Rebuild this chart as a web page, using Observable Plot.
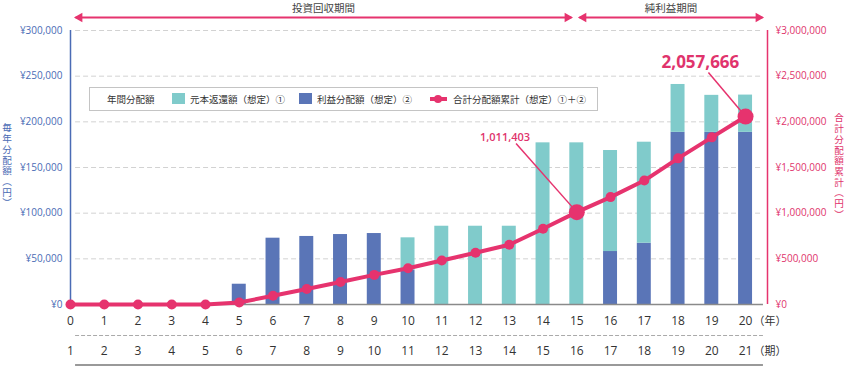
<!DOCTYPE html>
<html><head><meta charset="utf-8">
<script src="https://cdn.jsdelivr.net/npm/d3@7"></script>
<script src="https://cdn.jsdelivr.net/npm/@observablehq/plot@0.6"></script>
<style>
body{margin:0;background:#fff;}
#wrap{position:relative;width:845px;height:366px;font-family:"Open Sans","Noto Sans CJK JP",sans-serif;overflow:hidden;}
#wrap svg{position:absolute;left:0;top:0;}
.lg{position:absolute;font-family:"Noto Sans CJK JP",sans-serif;font-size:9.5px;color:#333;line-height:12px;white-space:nowrap;}
.vt{position:absolute;width:13px;height:130px;writing-mode:vertical-rl;text-orientation:mixed;white-space:nowrap;font-family:"Noto Sans CJK JP",sans-serif;font-size:9.6px;letter-spacing:1.1px;line-height:13px;}
</style></head><body><div id="wrap"></div>
<script>
// ---- data ----
const years = [0,1,2,3,4,5,6,7,8,9,10,11,12,13,14,15,16,17,18,19,20];
const periods = [1,2,3,4,5,6,7,8,9,10,11,12,13,14,15,16,17,18,19,20,21];
const principal = [0,0,0,0,0,0,0,0,0,0,35800,85700,85700,85700,177000,177000,110600,110600,52400,40500,40800];
const profit = [0,0,0,0,0,22200,72600,74500,76600,77700,37200,0,0,0,0,0,58000,67100,188500,188500,188500];
const cumulative = [0,0,0,0,0,22000,95000,169000,246000,324000,397000,482000,566000,654000,830000,1011403,1176000,1357000,1600000,1830000,2057666];
const leftTicks = [0,50000,100000,150000,200000,250000,300000];
const rightTicks = [0,500000,1000000,1500000,2000000,2500000,3000000];
const legendTitle = "年間分配額";
const seriesNames = ["元本返還額（想定）①","利益分配額（想定）②","合計分配額累計（想定）①＋②"];
const leftTitle = "毎年分配額（円）";
const rightTitle = "合計分配額累計（円）";
const spans = [{label:"投資回収期間", from:0.15, to:14.84},{label:"純利益期間", from:15.08, to:20.5}];
const yearUnit = "（年）", periodUnit = "（期）";
const highlights = [15, 20];

// ---- styles ----
const TEAL = "#80cbcb", BLUE = "#5a75b7", PINK = "#e6336e", BLUETXT = "#4a6bb5", PINKTXT = "#e0336c";
const xMax = 20.65, bw = 0.207, gx1 = 0.15, gx2 = 20.53;
const fmtYen = d => "¥" + d3.format(",")(d);
const CJK = '"Noto Sans CJK JP",sans-serif';

const rows = years.map((y,i) => ({year:y, period:periods[i], principal:principal[i], profit:profit[i], cum:cumulative[i]}));
const hl = rows.filter(d => highlights.includes(d.year));
const ann = [
  {year:15, cum:cumulative[15], text:d3.format(",")(cumulative[15]), lx:13.2, lcum:1763000},
  {year:20, cum:cumulative[20], text:d3.format(",")(cumulative[20]), lx:18.9, lcum:2540000}
];

const chart = Plot.plot({
  width: 845, height: 366,
  marginLeft: 70, marginRight: 78, marginTop: 30, marginBottom: 62,
  x: {domain: [0, xMax], axis: null},
  y: {domain: [0, 300000], axis: null},
  style: {fontFamily: '"Open Sans","Noto Sans CJK JP",sans-serif', background: "transparent", overflow: "visible"},
  marks: [
    Plot.ruleY(leftTicks.filter(d => d > 0), {x1: gx1, x2: gx2, y: d => d, stroke: "#d2d2d2", strokeDasharray: "5,3"}),
    Plot.rect(rows, {x1: d => d.year - bw, x2: d => d.year + bw, y1: 0, y2: "profit", fill: BLUE}),
    Plot.rect(rows, {x1: d => d.year - bw, x2: d => d.year + bw, y1: "profit", y2: d => d.profit + d.principal, fill: TEAL}),
    Plot.ruleY([0], {x1: 0, x2: gx2, stroke: "#8a8a8a", strokeWidth: 1.5}),
    Plot.ruleX([0], {y1: 0, y2: 300000, stroke: BLUETXT, strokeWidth: 1.5}),
    Plot.ruleX([xMax], {y1: 0, y2: 300000, stroke: PINK, strokeWidth: 1.5}),
    Plot.text(leftTicks, {x: 0, y: d => d, text: fmtYen, textAnchor: "end", dx: -8, fill: BLUETXT, fontSize: 10}),
    Plot.text(rightTicks, {x: xMax, y: d => d / 10, text: fmtYen, textAnchor: "start", dx: 8, fill: PINKTXT, fontSize: 10}),
    // leaders
    Plot.link(ann, {x1: "year", y1: d => d.cum / 10, x2: "lx", y2: d => d.lcum / 10, stroke: PINK, strokeWidth: 1.5}),
    Plot.line(rows, {x: "year", y: d => d.cum / 10, stroke: PINK, strokeWidth: 4}),
    Plot.dot(rows, {x: "year", y: d => d.cum / 10, r: 5, fill: PINK}),
    Plot.dot(hl, {x: "year", y: d => d.cum / 10, r: 8, fill: PINK}),
    Plot.text(ann.slice(0,1), {x: "lx", y: d => d.lcum / 10, text: "text", dx: -11, dy: -6, fill: PINKTXT, fontSize: 11, fontWeight: 600}),
    Plot.text(ann.slice(1), {x: "lx", y: d => d.lcum / 10, text: "text", dx: -8, dy: -10, fill: PINKTXT, fontSize: 17, fontWeight: 700}),
    // period arrows
    Plot.link(spans, {x1: "from", x2: "to", y1: 300000, y2: 300000, dy: -13, stroke: PINK, strokeWidth: 2}),
    Plot.dot(spans, {x: "from", y: 300000, dy: -13, dx: 4, symbol: "triangle", rotate: -90, r: 3.6, fill: PINK}),
    Plot.dot(spans, {x: "to", y: 300000, dy: -13, dx: -4, symbol: "triangle", rotate: 90, r: 3.6, fill: PINK}),
    Plot.text(spans, {x: d => (d.from + d.to) / 2, y: 300000, dy: -22, text: "label", fill: "#444", fontSize: 10.5, fontFamily: CJK}),
    // bottom axes
    Plot.text(rows, {x: "year", y: 0, dy: 17, text: d => String(d.year), fill: "#333", fontSize: 12}),
    Plot.text([yearUnit], {x: 20, y: 0, dy: 17, dx: 8, textAnchor: "start", text: d => d, fill: "#333", fontSize: 11, fontFamily: CJK}),
    Plot.ruleY([0], {x1: gx1, x2: gx2, dy: 31, stroke: "#aaa", strokeDasharray: "4,2"}),
    Plot.text(rows, {x: "year", y: 0, dy: 47, text: d => String(d.period), fill: "#333", fontSize: 12}),
    Plot.text([periodUnit], {x: 20, y: 0, dy: 47, dx: 8, textAnchor: "start", text: d => d, fill: "#333", fontSize: 11, fontFamily: CJK}),
    Plot.ruleY([0], {x1: gx1, x2: gx2, dy: 60.5, stroke: "#999", strokeWidth: 2})
  ]
});
const wrap = document.getElementById("wrap");
wrap.appendChild(chart);

// legend
function add(html, style, cls) {
  const el = document.createElement("div");
  if (cls) el.className = cls;
  el.innerHTML = html;
  Object.assign(el.style, style);
  wrap.appendChild(el);
  return el;
}
add("", {position:"absolute", left:"89px", top:"87px", width:"509px", height:"24px", boxSizing:"border-box", border:"1px solid #c4c4c4", background:"#fff"});
add(legendTitle, {left:"107px", top:"93px"}, "lg");
add("", {position:"absolute", left:"172px", top:"93px", width:"13px", height:"11px", background:TEAL});
add(seriesNames[0], {left:"190px", top:"93px"}, "lg");
add("", {position:"absolute", left:"299px", top:"93px", width:"13px", height:"11px", background:BLUE});
add(seriesNames[1], {left:"317px", top:"93px"}, "lg");
add("", {position:"absolute", left:"430px", top:"97px", width:"17px", height:"4px", background:PINK});
add("", {position:"absolute", left:"434px", top:"95px", width:"8px", height:"8px", borderRadius:"50%", background:PINK});
add(seriesNames[2], {left:"453px", top:"93px"}, "lg");

// vertical titles
add(leftTitle, {left:"0px", top:"123px", color:BLUETXT}, "vt");
add(rightTitle, {left:"832px", top:"113px", color:PINKTXT}, "vt");
</script></body></html>
